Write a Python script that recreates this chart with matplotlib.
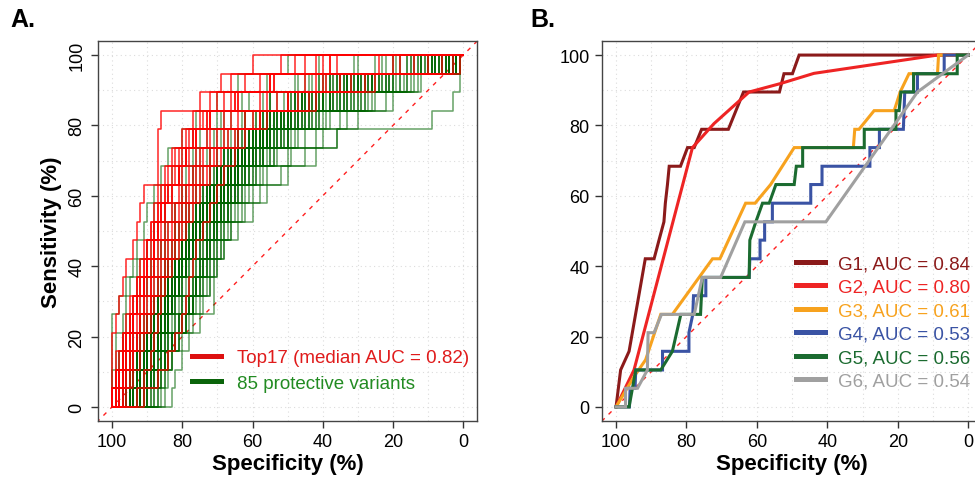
#!/usr/bin/env python3
"""
ROC curves: Top17 vs 85 protective variants (A) and per-group ROC (B).
"""

import matplotlib
matplotlib.use("Agg")
import matplotlib.pyplot as plt
from matplotlib.lines import Line2D

plt.rcParams["font.family"] = ["Liberation Sans", "DejaVu Sans"]

N_CASES = 19
GRID_VALUES = list(range(0, 101, 10))
TICK_VALUES = [0, 20, 40, 60, 80, 100]

# Panel A: specificity (%) at which each curve steps up to sensitivity k/19
RED_CURVES = [
    "100 100 100 100 99 98 97 96 94 93 92 91 87 87 87 86 75 69 60",
    "100 99 99 97 96 95 93 92 91 89 88 87 85 83 80 77 72 66 52",
    "99 99 98 97 95 94 93 91 90 89 87 86 84 82 79 75 70 62 48",
    "100 98 97 96 95 94 92 91 90 88 87 85 83 81 78 74 68 58 45",
    "99 98 97 96 95 93 92 90 89 88 86 85 82 80 77 73 66 55 42",
    "98 98 97 95 94 93 91 90 88 87 86 84 81 79 76 72 64 54 38",
    "100 99 97 96 94 93 91 90 88 87 86 84 81 79 77 73 65 55 36",
    "99 98 96 95 94 93 91 90 88 87 85 83 81 79 76 72 64 54 40",
    "98 97 96 95 94 92 91 89 88 86 85 83 80 78 76 72 65 55 38",
    "98 97 96 94 93 91 90 88 87 85 83 81 78 76 73 68 58 45 24",
    "99 97 95 94 92 91 89 88 86 84 82 80 77 75 72 66 56 42 18",
    "97 96 95 93 92 90 89 87 85 83 81 79 76 74 70 64 53 39 14",
    "98 96 94 93 91 89 88 86 84 82 80 78 75 72 68 62 50 35 10",
    "96 95 94 92 90 89 87 85 83 81 79 77 74 71 67 60 47 32 6",
    "97 94 92 91 89 88 86 84 82 80 78 76 73 70 65 58 44 28 3",
    "93 91 89 88 87 86 85 83 81 79 77 75 72 69 64 56 42 25 1",
    "91 87 84 82 80 79 78 77 76 74 72 70 68 65 62 58 50 40 20",
]

GREEN_CURVES = [
    "100 100 99 99 97 96 96 94 93 91 90 88 86 84 80 76 70 64 50",
    "100 98 98 97 95 93 93 92 90 88 88 86 83 80 77 70 63 56 41",
    "99 98 96 96 94 93 91 89 89 87 85 84 81 79 75 68 61 47 31",
    "100 100 100 100 100 98 95 93 90 88 85 83 80 77 73 69 57 44 23",
    "100 99 97 95 92 92 90 88 87 85 83 80 79 76 71 66 55 48 18",
    "98 96 96 94 92 91 90 87 86 84 82 80 77 75 70 63 55 41 12",
    "97 96 94 93 92 89 89 88 85 85 82 79 77 73 69 62 51 38 10",
    "99 97 95 93 92 90 87 86 85 82 80 79 75 72 67 62 49 40 8",
    "97 95 95 92 90 89 88 85 84 81 80 77 76 72 68 59 48 33 6",
    "96 96 94 92 91 88 87 85 83 82 79 76 74 70 65 59 46 36 14",
    "98 96 93 92 90 88 86 84 83 80 79 76 72 70 64 57 46 30 5",
    "96 94 93 91 90 87 87 85 82 81 77 75 72 68 64 56 44 34 9",
    "97 95 92 91 89 88 85 84 82 79 78 74 72 67 63 55 44 28 4",
    "95 94 93 90 89 86 85 84 81 79 76 74 70 67 61 55 42 32 11",
    "96 95 92 91 88 86 84 83 80 79 76 73 70 65 61 53 42 26 3",
    "99 96 93 90 88 86 84 81 80 77 76 72 70 66 60 56 43 35 16",
    "95 93 92 89 88 87 84 83 80 78 75 73 68 65 59 53 40 29 7",
    "94 93 91 90 88 86 85 82 80 77 75 71 69 64 59 51 40 27 2",
    "97 94 92 89 88 85 84 81 79 77 74 72 67 64 58 52 38 31 13",
    "95 93 90 89 87 86 83 82 79 76 74 70 68 63 58 50 38 25 5",
    "93 92 91 89 87 85 84 82 79 76 74 71 67 63 58 50 37 28 8",
    "96 94 91 89 87 85 83 81 78 76 73 70 67 62 57 49 36 22 3",
    "94 92 90 88 87 85 83 80 78 75 73 70 66 62 56 48 35 30 15",
    "95 93 90 88 86 84 82 80 77 75 72 69 66 61 56 47 34 24 6",
    "92 91 90 88 86 84 82 80 77 74 72 69 65 61 55 46 33 21 2",
    "97 94 91 88 86 84 82 79 77 74 71 68 65 60 54 45 32 26 9",
    "93 91 89 87 86 84 81 79 76 74 71 68 64 59 53 44 31 20 4",
    "94 92 89 87 85 83 81 79 76 73 70 67 64 59 52 43 30 23 7",
    "91 90 89 87 85 83 80 78 75 73 70 67 63 58 51 42 29 18 1",
    "95 92 89 86 84 82 80 78 75 72 69 66 62 57 50 41 28 22 10",
    "100 99 98 97 96 94 92 89 86 82 78 74 70 65 58 50 40 28 10",
    "90 87 85 83 81 80 78 77 76 75 74 72 70 68 66 62 55 45 30",
    "98 97 95 93 90 87 84 81 79 77 75 73 71 68 62 54 45 35 20",
    "93 90 88 86 85 84 83 82 80 78 75 72 69 66 63 58 50 38 12",
    "97 96 96 94 91 88 86 83 80 77 74 70 66 62 57 52 44 33 5",
    "94 91 89 88 87 85 83 81 79 78 76 73 70 66 61 55 48 40 25",
    "99 98 95 91 89 87 85 82 79 75 72 69 66 63 60 56 47 32 8",
    "92 91 89 86 84 82 81 79 78 76 74 72 70 67 64 60 53 43 18",
    "96 93 91 89 87 86 85 84 82 79 76 72 68 63 57 49 38 26 4",
    "95 94 92 90 87 84 81 79 77 75 73 71 68 64 60 55 46 37 14",
    "97 95 93 90 88 85 83 81 79 76 72 68 64 60 56 51 42 30 2",
    "91 89 88 87 86 85 84 82 80 77 74 71 68 65 60 54 45 34 11",
    "98 95 92 90 89 88 86 83 80 77 74 71 67 62 55 47 38 27 6",
    "94 92 90 88 86 84 82 80 78 76 74 72 69 65 61 57 50 41 20",
    "96 94 91 87 85 83 81 79 77 75 72 70 67 64 59 53 41 29 3",
    "93 92 91 90 88 85 82 79 76 74 72 70 68 66 62 56 47 36 9",
    "99 96 94 92 89 86 83 80 77 74 71 68 65 61 56 50 40 31 12",
    "92 90 87 85 84 83 82 81 79 77 75 72 69 64 59 52 43 33 7",
    "95 93 92 91 89 87 85 82 79 75 71 68 65 61 57 52 44 35 16",
    "97 94 90 87 85 83 81 79 78 76 74 71 68 64 58 51 39 24 1",
    "90 89 88 87 85 83 81 80 78 77 75 73 71 68 64 58 49 38 13",
    "96 95 93 91 88 85 82 80 78 75 72 69 66 62 58 53 45 36 19",
    "94 91 88 86 85 84 83 81 79 76 73 70 66 62 56 49 40 29 5",
    "98 96 93 90 87 85 83 81 78 75 72 69 66 63 59 54 46 32 8",
    "93 91 90 88 86 84 82 80 77 75 73 71 69 65 61 55 45 33 10",
    "95 92 90 89 88 86 84 81 78 75 73 70 67 63 57 50 42 31 4",
    "91 90 88 86 84 82 80 79 77 76 74 72 69 66 62 57 48 37 15",
    "97 95 92 89 86 84 82 80 78 75 72 68 64 60 55 48 37 26 2",
    "92 91 89 88 86 84 83 81 79 77 75 72 68 64 58 51 41 30 6",
    "96 93 91 89 87 85 83 81 78 75 73 70 67 63 60 56 48 39 22",
    "94 92 91 89 87 84 81 79 77 74 71 68 65 62 57 52 43 34 9",
    "98 95 93 91 89 87 84 81 78 74 70 67 64 60 55 49 40 28 3",
    "93 90 88 86 84 83 82 80 78 76 73 70 67 64 60 54 46 35 12",
    "95 94 91 88 86 84 82 80 77 74 71 69 66 62 58 52 44 33 7",
    "92 89 87 85 84 83 81 79 77 75 72 69 66 62 57 50 41 30 4",
    "90 88 86 84 82 81 79 77 75 73 71 68 65 61 56 49 38 26 3",
    "92 89 86 83 81 79 77 76 74 72 70 67 64 60 55 48 36 24 2",
    "89 87 86 84 82 80 78 76 74 72 69 66 62 58 53 46 35 22 5",
    "94 90 86 83 80 78 76 75 73 71 69 66 63 59 54 47 34 21 1",
    "88 87 85 83 81 79 77 75 73 71 68 65 61 56 50 43 32 20 3",
    "91 88 85 82 80 78 76 74 72 70 68 65 62 58 52 44 33 25 8",
    "87 86 85 83 81 78 76 74 72 70 67 64 60 55 49 42 30 18 2",
    "93 89 85 82 79 77 75 73 72 70 67 63 59 54 48 40 28 17 1",
    "90 86 84 80 77 74 72 70 69 66 62 58 52 45 36 30 20 12 2",
    "92 90 85 82 78 75 72 71 68 66 63 60 56 50 42 35 22 14 4",
    "88 87 85 83 80 76 73 71 69 67 64 61 57 49 40 33 25 16 2",
    "94 91 88 84 80 77 74 72 70 68 65 62 58 53 45 38 27 15 3",
    "83 82 80 78 75 71 71 70 68 64 60 56 50 42 36 9 3 1 1",
    "89 86 83 81 79 77 75 73 71 69 66 63 59 54 47 39 26 13 2",
    "91 87 84 82 80 77 74 72 70 68 66 64 61 57 51 44 31 19 4",
    "86 85 83 81 79 77 76 74 72 70 67 64 60 55 50 45 35 23 6",
    "90 88 87 85 83 80 77 75 73 71 69 67 64 60 54 46 33 20 1",
    "85 84 83 82 80 78 76 74 73 71 69 66 63 59 53 47 37 27 9",
    "93 88 84 81 79 77 75 73 71 69 67 65 62 57 50 41 29 16 1",
    "87 85 84 82 80 78 76 75 73 71 68 65 61 57 52 45 34 21 3",
]

# Panel B: group ROC curves (specificity %, sensitivity %)
G1_SPEC = [100, 98.7, 96.3, 91.7, 89.2, 87.8, 86.4, 86.0, 85.4, 84.9, 81.7, 79.7,
           77.8, 75.7, 68.1, 63.8, 53.6, 52.3, 49.9, 48.0, 0]
G1_SENS = [0, 10.5, 15.8, 42.1, 42.1, 47.4, 52.6, 57.9, 63.2, 68.4, 68.4, 73.7,
           73.7, 78.9, 78.9, 89.5, 89.5, 94.7, 94.7, 100, 100]

G2_SPEC = [100, 94.9, 78.3, 72.2, 62.2, 53.3, 43.8, 8.7, 0]
G2_SENS = [0, 10.5, 73.7, 80.5, 89.5, 91.9, 94.8, 100, 100]

G3_SPEC = [100, 94.9, 91.6, 87.3, 84.0, 72.6, 70.5, 63.2, 60.5, 56.1, 49.4, 47.1,
           32.6, 32.2, 31.0, 26.7, 21.0, 19.3, 16.8, 8.7, 8.4, 0]
G3_SENS = [0, 8.6, 13.4, 26.3, 26.3, 42.1, 42.1, 57.9, 57.9, 63.2, 73.7, 73.7,
           73.7, 78.9, 78.9, 84.2, 84.2, 89.5, 94.7, 94.7, 100, 100]

G4_SPEC = [100, 96.2, 96.0, 94.6, 94.4, 86.8, 86.8, 79.3, 79.3, 78.2, 78.0, 74.5,
           74.5, 62.2, 62.0, 59.1, 59.1, 57.8, 57.8, 55.6, 55.6, 44.7, 44.7, 41.5,
           41.5, 27.9, 27.9, 25.2, 25.2, 18.4, 18.0, 14.4, 14.4, 6.8, 6.8, 0]
G4_SENS = [0, 0, 5.3, 5.3, 10.5, 10.5, 15.8, 15.8, 21.1, 26.3, 31.6, 31.6,
           36.8, 36.8, 42.1, 42.1, 47.4, 47.4, 52.6, 52.6, 57.9, 57.9, 63.2, 63.2,
           68.4, 68.4, 73.7, 73.7, 78.9, 78.9, 89.5, 89.5, 94.7, 94.7, 100, 100]

G5_SPEC = [100, 96.3, 94.4, 87.3, 84.0, 81.6, 76.0, 75.5, 62.2, 62.0, 60.3, 58.4,
           56.5, 54.6, 49.4, 48.8, 47.0, 47.0, 29.5, 29.5, 20.5, 20.5, 19.6, 19.1,
           15.5, 15.5, 3.1, 3.1, 0]
G5_SENS = [0, 0, 10.5, 10.5, 15.8, 26.3, 26.3, 36.8, 36.8, 47.4, 52.6, 57.9,
           57.9, 63.2, 63.2, 68.4, 68.4, 73.7, 73.7, 78.9, 78.9, 84.2, 84.2, 89.5,
           89.5, 94.7, 94.7, 100, 100]

G6_SPEC = [100, 97.3, 97.3, 93.9, 91.1, 90.9, 89.2, 87.1, 77.8, 75.5, 70.3, 63.4,
           40.4, 14.4, 0]
G6_SENS = [0, 0, 5.3, 5.3, 10.5, 21.1, 21.1, 26.3, 26.3, 36.8, 36.8, 52.6,
           52.6, 89.5, 100]

GROUP_LABELS = ["G1, AUC = 0.84", "G2, AUC = 0.80", "G3, AUC = 0.61",
                "G4, AUC = 0.53", "G5, AUC = 0.56", "G6, AUC = 0.54"]
GROUP_COLORS = ["#8B1A1A", "#EE2424", "#F7A21E", "#3A53A4", "#1B6B30", "#A0A0A0"]

RED = "#FF0000"
GREEN = "#006400"


def parse_curves(rows: list[str]) -> list[list[float]]:
    return [sorted((float(v) for v in row.split()), reverse=True) for row in rows]


def step_path(thresholds: list[float]) -> tuple[list[float], list[float]]:
    xs, ys = [100.0], [0.0]
    for k, spec in enumerate(thresholds, start=1):
        xs += [spec, spec]
        ys += [100.0 * (k - 1) / N_CASES, 100.0 * k / N_CASES]
    xs.append(0.0)
    ys.append(100.0)
    return xs, ys


def style_axes(ax, rotate_y: bool) -> None:
    ax.set_xlim(104, -4)
    ax.set_ylim(-4, 104)
    for v in GRID_VALUES:
        ax.axvline(v, color="#dcdcdc", lw=0.8, ls=(0, (1, 3)), zorder=0)
        ax.axhline(v, color="#dcdcdc", lw=0.8, ls=(0, (1, 3)), zorder=0)
    ax.axline((100, 0), (0, 100), color="#ff2020", lw=1.0, ls=(0, (3, 4)), zorder=1)
    ax.set_xticks(TICK_VALUES)
    ax.set_yticks(TICK_VALUES)
    ax.tick_params(direction="out", length=5, width=1.0, labelsize=13,
                   color="#333333", pad=4)
    if rotate_y:
        for lab in ax.get_yticklabels():
            lab.set_rotation(90)
            lab.set_va("center")
    for sp in ax.spines.values():
        sp.set_color("#444444")
        sp.set_linewidth(1.0)
    ax.set_xlabel("Specificity (%)", fontsize=16, fontweight="bold", labelpad=2)


def main() -> None:
    fig = plt.figure(figsize=(9.75, 4.81), dpi=100)
    ax_a = fig.add_axes([0.1005, 0.1227, 0.389, 0.79])
    ax_b = fig.add_axes([0.6174, 0.1227, 0.39, 0.79])

    # Panel A
    style_axes(ax_a, rotate_y=True)
    for b in parse_curves(GREEN_CURVES):
        xs, ys = step_path(b)
        ax_a.plot(xs, ys, color=GREEN, lw=1.1, alpha=0.6, zorder=2)
    for b in parse_curves(RED_CURVES):
        xs, ys = step_path(b)
        ax_a.plot(xs, ys, color=RED, lw=1.1, alpha=0.85, zorder=3)
    ax_a.set_ylabel("Sensitivity (%)", fontsize=16, fontweight="bold", labelpad=5)

    handles_a = [Line2D([], [], color="#DD1010", lw=3.6),
                 Line2D([], [], color="#0A640A", lw=3.6)]
    ax_a.legend(handles_a, ["Top17 (median AUC = 0.82)", "85 protective variants"],
                loc="upper left", bbox_to_anchor=(192 / 975, 1 - 350 / 481),
                bbox_transform=fig.transFigure, frameon=False, fontsize=13.5,
                handlelength=1.55, handletextpad=0.85, borderpad=0,
                borderaxespad=0, labelspacing=0.45,
                labelcolor=["#E01B1B", "#228B22"])

    # Panel B
    style_axes(ax_b, rotate_y=False)
    groups = [(G1_SPEC, G1_SENS), (G2_SPEC, G2_SENS), (G3_SPEC, G3_SENS),
              (G4_SPEC, G4_SENS), (G5_SPEC, G5_SENS), (G6_SPEC, G6_SENS)]
    for (spec, sens), color in zip(groups, GROUP_COLORS):
        ax_b.plot(spec, sens, color=color, lw=2.2, zorder=3,
                  solid_joinstyle="miter")
    handles_b = [Line2D([], [], color=c, lw=3.6) for c in GROUP_COLORS]
    ax_b.legend(handles_b, GROUP_LABELS,
                loc="upper left", bbox_to_anchor=(796 / 975, 1 - 256 / 481),
                bbox_transform=fig.transFigure, frameon=False, fontsize=13.5,
                handlelength=1.55, handletextpad=0.7, borderpad=0,
                borderaxespad=0, labelspacing=0.34, labelcolor=GROUP_COLORS)

    fig.text(10 / 975, 1 - 20 / 481, "A.", fontsize=18, fontweight="bold",
             va="center", ha="left")
    fig.text(530 / 975, 1 - 20 / 481, "B.", fontsize=18, fontweight="bold",
             va="center", ha="left")

    fig.savefig("out.png", dpi=100)
    plt.close(fig)


if __name__ == "__main__":
    main()
